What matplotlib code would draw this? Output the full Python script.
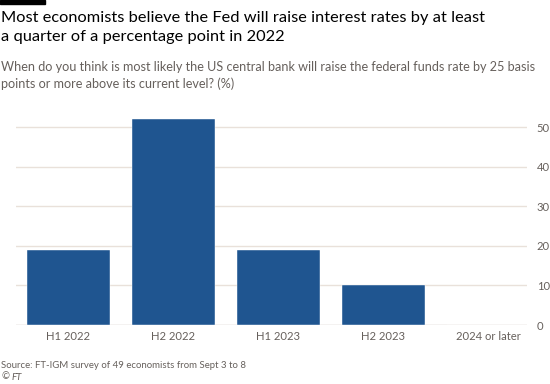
import matplotlib
matplotlib.use("Agg")
import matplotlib.pyplot as plt
from matplotlib.patches import Rectangle

categories = ["H1 2022", "H2 2022", "H1 2023", "H2 2023", "2024 or later"]
values = [19, 52, 19, 10, 0]
yticks = [0, 10, 20, 30, 40, 50]

title = "Most economists believe the Fed will raise interest rates by at least\na quarter of a percentage point in 2022"
subtitle = "When do you think is most likely the US central bank will raise the federal funds rate by 25 basis\npoints or more above its current level? (%)"
source = "Source: FT-IGM survey of 49 economists from Sept 3 to 8"

FONT = "Lato"
GRAY = "#66605c"
BAR = "#1f5590"

plt.rcParams["font.family"] = [FONT, "DejaVu Sans"]

fig = plt.figure(figsize=(5.5, 3.84), dpi=100)
W, H = 550, 384

def fx(px):
    return px / W

def fy(py):
    return 1 - py / H

ax = fig.add_axes([fx(16), fy(325), fx(527) - fx(16), fy(110) - fy(325)])
x = list(range(len(categories)))
ax.bar(x, values, width=0.79, color=BAR, edgecolor="#ffffff", linewidth=0.3, zorder=3)
ax.set_xlim(-0.5, 4.37)
ax.set_ylim(0, 54.4)
ax.set_yticks(yticks)
ax.yaxis.tick_right()
ax.tick_params(axis="y", length=0, pad=7, labelsize=8.1, labelcolor=GRAY)
ax.tick_params(axis="x", length=0, pad=4, labelsize=8.1, labelcolor=GRAY)
ax.set_xticks(x)
ax.set_xticklabels(categories)
for s in ax.spines.values():
    s.set_visible(False)
for t in yticks:
    if t == 0:
        ax.axhline(t, color="#c9c0b8", linewidth=1.0, zorder=2)
    else:
        ax.axhline(t, color="#e9e1da", linewidth=1.0, zorder=1)

fig.patches.append(Rectangle((0, fy(3.5)), fx(45), 3.5 / H, transform=fig.transFigure,
                             color="black", zorder=5))
fig.text(fx(1), fy(11), title, fontsize=11.75, color="#000000", va="top", ha="left",
         linespacing=1.5)
fig.text(fx(1), fy(61), subtitle, fontsize=9.1, color=GRAY, va="top", ha="left",
         linespacing=1.4)
fig.text(fx(1), fy(365), source, fontsize=6.9, color=GRAY, va="center", ha="left")
fig.text(fx(1), fy(377), "©", fontsize=6.9, color=GRAY, va="center", ha="left")
fig.text(fx(11.5), fy(377), "FT", fontsize=6.9, color=GRAY, va="center", ha="left", style="italic")

fig.savefig("out.png", dpi=100, facecolor="white")
